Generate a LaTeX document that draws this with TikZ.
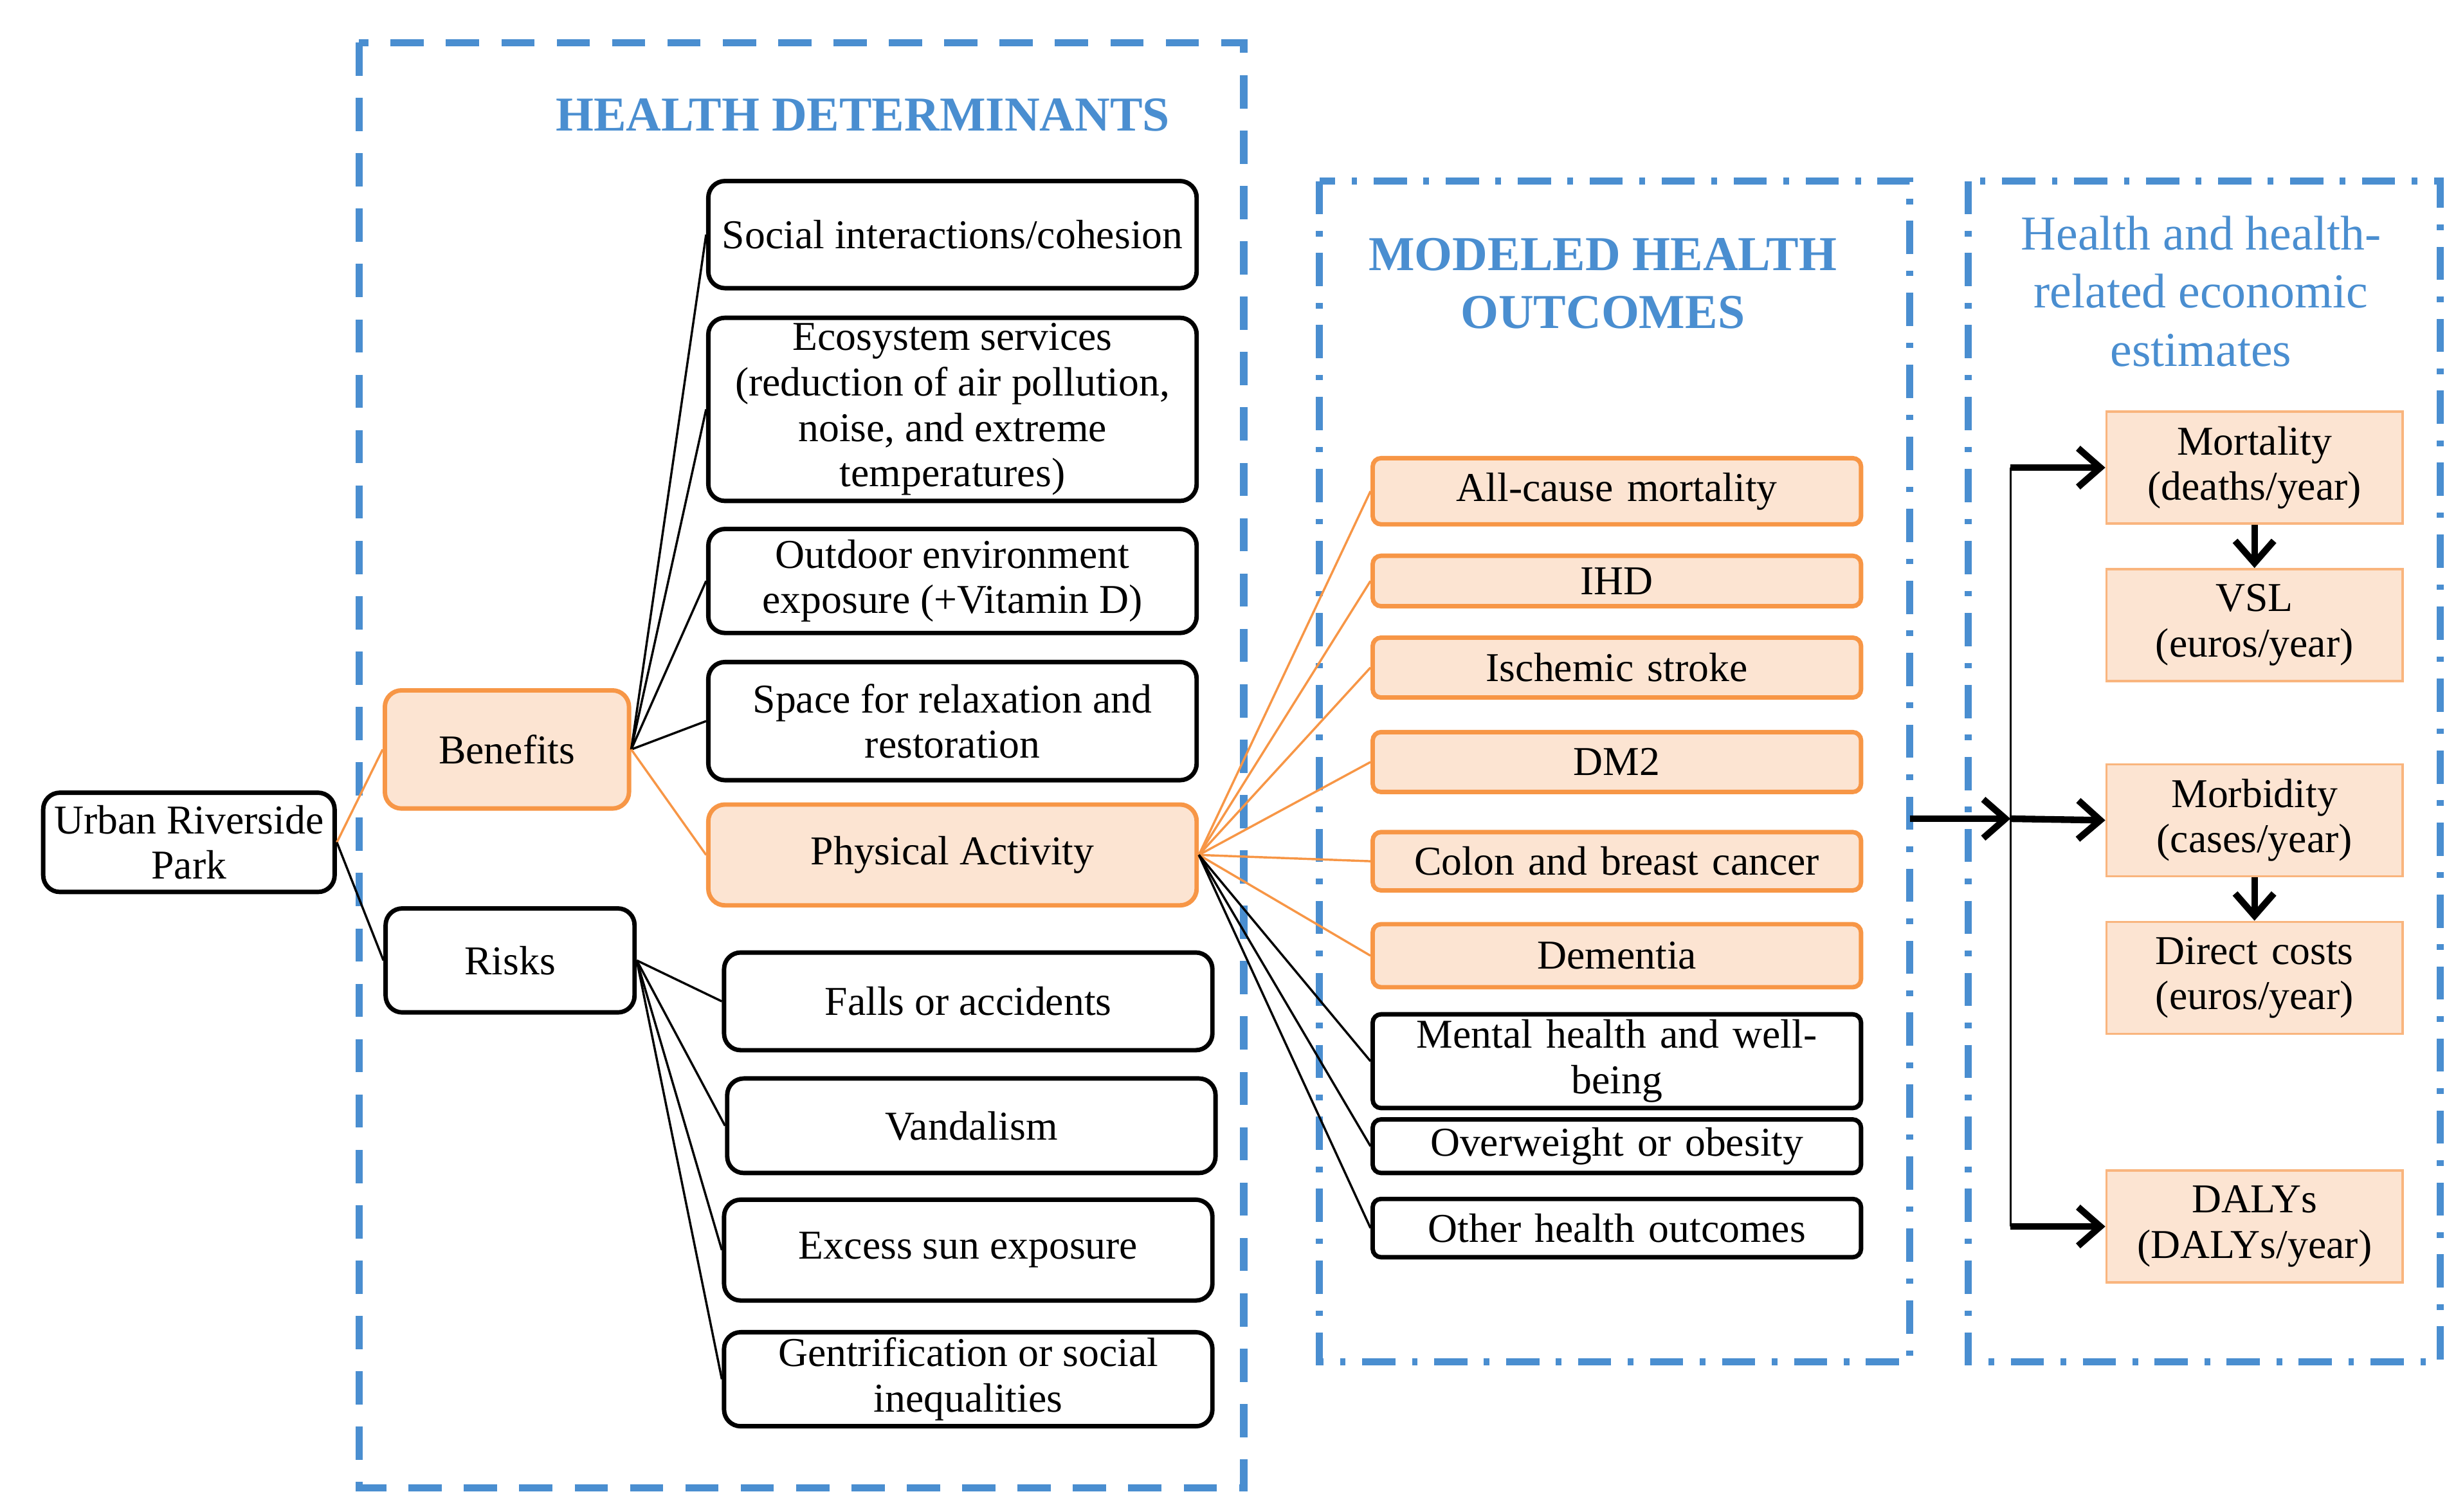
\documentclass[tikz,border=0pt]{standalone}
\usepackage{fontspec}
\setmainfont{Liberation Serif}
\usetikzlibrary{arrows.meta}

\definecolor{frameblue}{RGB}{74,142,208}
\definecolor{orline}{RGB}{247,150,70}
\definecolor{orfill}{RGB}{252,228,210}

\tikzset{
  txt/.style={font=\fontsize{7.4}{8.2}\selectfont, align=center, inner sep=1pt},
  box/.style={txt, draw, thick, rounded corners=3pt, minimum height=#1},
  obox/.style={box=#1, draw=orline, fill=orfill},
  outc/.style={txt, draw, thick, rounded corners=1.5pt, minimum width=3.1cm, minimum height=#1, text width=2.9cm},
  ooutc/.style={outc=#1, draw=orline, fill=orfill},
  econ/.style={txt, draw=orline!70, fill=orfill, minimum width=1.88cm, minimum height=0.71cm, text width=1.8cm},
  frame/.style={frameblue, line width=1.3pt},
  title/.style={font=\fontsize{8.8}{10.5}\selectfont, text=frameblue, align=center},
  bline/.style={thin},
  oline/.style={thin, orline},
  arr/.style={line width=1.2pt, -{Straight Barb[length=4pt,width=7pt]}}
}

\begin{document}
\begin{tikzpicture}[x=0.01cm, y=-0.01cm]

  \useasboundingbox (0,0) rectangle (1560,960);

  % frames
  \draw[frame, dash pattern=on 6pt off 4pt] (228,27) rectangle (790,945);
  \draw[frame, dash pattern=on 6pt off 3pt on 1pt off 3pt] (838,115) rectangle (1213,865);
  \draw[frame, dash pattern=on 6pt off 3pt on 1pt off 3pt] (1250,115) rectangle (1550,865);

  \node[title, font=\bfseries\fontsize{8.8}{10.5}\selectfont] (t1) at (548,73) {HEALTH DETERMINANTS};
  \node[title, font=\bfseries\fontsize{8.8}{10.5}\selectfont] (t2) at (1018,180) {MODELED HEALTH\\OUTCOMES};
  \node[title] (t3) at (1398,185) {Health and health-\\related economic\\estimates};

  % left side
  \node[box=0.63cm, minimum width=1.85cm] (park) at (120,535) {Urban Riverside\\Park};
  \node[obox=0.75cm, minimum width=1.55cm] (ben) at (322,476) {Benefits};
  \node[box=0.66cm, minimum width=1.58cm] (risk) at (324,610) {Risks};

  \node[box=0.68cm, minimum width=3.1cm] (soc) at (605,149) {Social interactions/cohesion};
  \node[box=1.15cm, minimum width=3.1cm] (eco) at (605,260) {Ecosystem services\\(reduction of air pollution,\\noise, and extreme\\temperatures)};
  \node[box=0.66cm, minimum width=3.1cm] (outd) at (605,369) {Outdoor environment\\exposure (+Vitamin D)};
  \node[box=0.75cm, minimum width=3.1cm] (relax) at (605,458) {Space for relaxation and\\restoration};
  \node[obox=0.64cm, minimum width=3.1cm] (pa) at (605,543) {Physical Activity};

  \node[box=0.62cm, minimum width=3.1cm] (fall) at (615,636) {Falls or accidents};
  \node[box=0.60cm, minimum width=3.1cm] (vand) at (617,715) {Vandalism};
  \node[box=0.64cm, minimum width=3.1cm] (sun) at (615,794) {Excess sun exposure};
  \node[box=0.59cm, minimum width=3.1cm] (gent) at (615,876) {Gentrification or social\\inequalities};

  \draw[oline] (park.east) -- (ben.west);
  \draw[bline] (park.east) -- (risk.west);
  \foreach \n in {soc,eco,outd,relax}
    \draw[bline] (ben.east) -- (\n.west);
  \draw[oline] (ben.east) -- (pa.west);
  \foreach \n in {fall,vand,sun,gent}
    \draw[bline] (risk.east) -- (\n.west);

  % outcomes
  \node[ooutc=0.42cm] (allc) at (1027,312) {All-cause mortality};
  \node[ooutc=0.32cm] (ihd) at (1027,369) {IHD};
  \node[ooutc=0.38cm] (isch) at (1027,424) {Ischemic stroke};
  \node[ooutc=0.38cm] (dm) at (1027,484) {DM2};
  \node[ooutc=0.37cm] (colon) at (1027,547) {Colon and breast cancer};
  \node[ooutc=0.40cm] (dem) at (1027,607) {Dementia};
  \node[outc=0.48cm] (ment) at (1027,674) {Mental health and well-\\being};
  \node[outc=0.34cm] (over) at (1027,728) {Overweight or obesity};
  \node[outc=0.37cm] (other) at (1027,780) {Other health outcomes};

  \foreach \n in {allc,ihd,isch,dm,colon,dem}
    \draw[oline] (pa.east) -- (\n.west);
  \foreach \n in {ment,over,other}
    \draw[bline] (pa.east) -- (\n.west);

  % economic estimates
  \node[econ] (mort) at (1432,297) {Mortality\\(deaths/year)};
  \node[econ] (vsl) at (1432,397) {VSL\\(euros/year)};
  \node[econ] (morb) at (1432,521) {Morbidity\\(cases/year)};
  \node[econ] (cost) at (1432,621) {Direct costs\\(euros/year)};
  \node[econ] (daly) at (1432,779) {DALYs\\(DALYs/year)};

  \coordinate (src) at (1213,520);
  \coordinate (hub) at (1277,520);
  \coordinate (top) at (1277,297);
  \coordinate (bot) at (1277,779);
  \draw[arr] (src) -- (hub);
  \draw[thin] (top) -- (bot);
  \draw[arr] (top) -- (mort.west);
  \draw[arr] (hub) -- (morb.west);
  \draw[arr] (bot) -- (daly.west);
  \draw[arr] (mort.south) -- (vsl.north);
  \draw[arr] (morb.south) -- (cost.north);

\end{tikzpicture}
\end{document}
